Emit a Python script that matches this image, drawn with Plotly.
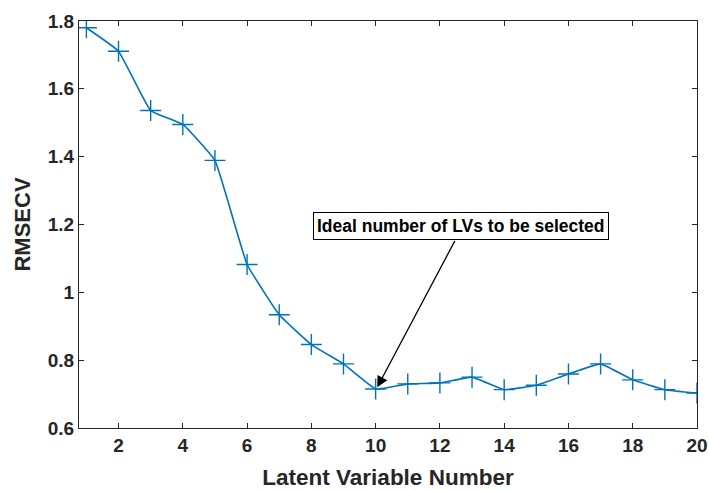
import plotly.graph_objects as go

lv = list(range(1, 21))
rmsecv = [1.780, 1.711, 1.536, 1.495, 1.389, 1.082, 0.934, 0.846, 0.789, 0.715,
          0.730, 0.733, 0.750, 0.713, 0.726, 0.759, 0.789, 0.742, 0.713, 0.703]
x_ticks = [2, 4, 6, 8, 10, 12, 14, 16, 18, 20]
y_ticks = [0.6, 0.8, 1.0, 1.2, 1.4, 1.6, 1.8]
y_tick_text = ["0.6", "0.8", "1", "1.2", "1.4", "1.6", "1.8"]
note_text = "Ideal number of LVs to be selected"

FONT = "Liberation Sans, Arial, Helvetica, sans-serif"
AXC = "#262626"

fig = go.Figure()
fig.add_trace(go.Scatter(
    x=lv, y=rmsecv, mode="lines+markers",
    line=dict(color="#0072BD", width=1.6, shape="spline", smoothing=0.3),
    marker=dict(symbol="cross-thin", size=15, line=dict(color="#0072BD", width=1.4)),
    showlegend=False,
))

# arrow
fig.add_annotation(x=10.05, y=0.72, ax=12.49, ay=1.156, xref="x", yref="y",
                   axref="x", ayref="y", text="", showarrow=True,
                   arrowhead=2, arrowsize=1.7, arrowwidth=1.3, arrowcolor="black",
                   standoff=0, startstandoff=0)
# text box
fig.add_annotation(x=12.66, y=1.197, xref="x", yref="y", text="<b>%s</b>" % note_text,
                   showarrow=False, font=dict(family=FONT, size=17.5, color="black"),
                   bgcolor="white", bordercolor="black", borderwidth=1, borderpad=3)

axis_common = dict(showline=True, linecolor=AXC, linewidth=1.2, mirror="ticks",
                   ticks="inside", ticklen=5, tickwidth=1.2, tickcolor=AXC,
                   showgrid=False, zeroline=False, automargin=False,
                   tickfont=dict(family=FONT, size=19, color=AXC))
fig.update_xaxes(range=[0.77, 20], tickvals=x_ticks,
                 ticktext=["<b>%d</b>" % t for t in x_ticks],
                 title=dict(text="<b>Latent Variable Number</b>",
                            font=dict(family=FONT, size=22.5, color=AXC), standoff=15),
                 **axis_common)
fig.update_yaxes(range=[0.6, 1.8], tickvals=y_ticks,
                 ticktext=["<b>%s</b>" % t for t in y_tick_text],
                 title=dict(text="<b>RMSECV</b>",
                            font=dict(family=FONT, size=22, color=AXC), standoff=10),
                 **axis_common)

fig.update_layout(width=709, height=490, margin=dict(l=79, r=12, t=21, b=62, pad=0),
                  plot_bgcolor="white", paper_bgcolor="white")
fig.write_html("out.html")
